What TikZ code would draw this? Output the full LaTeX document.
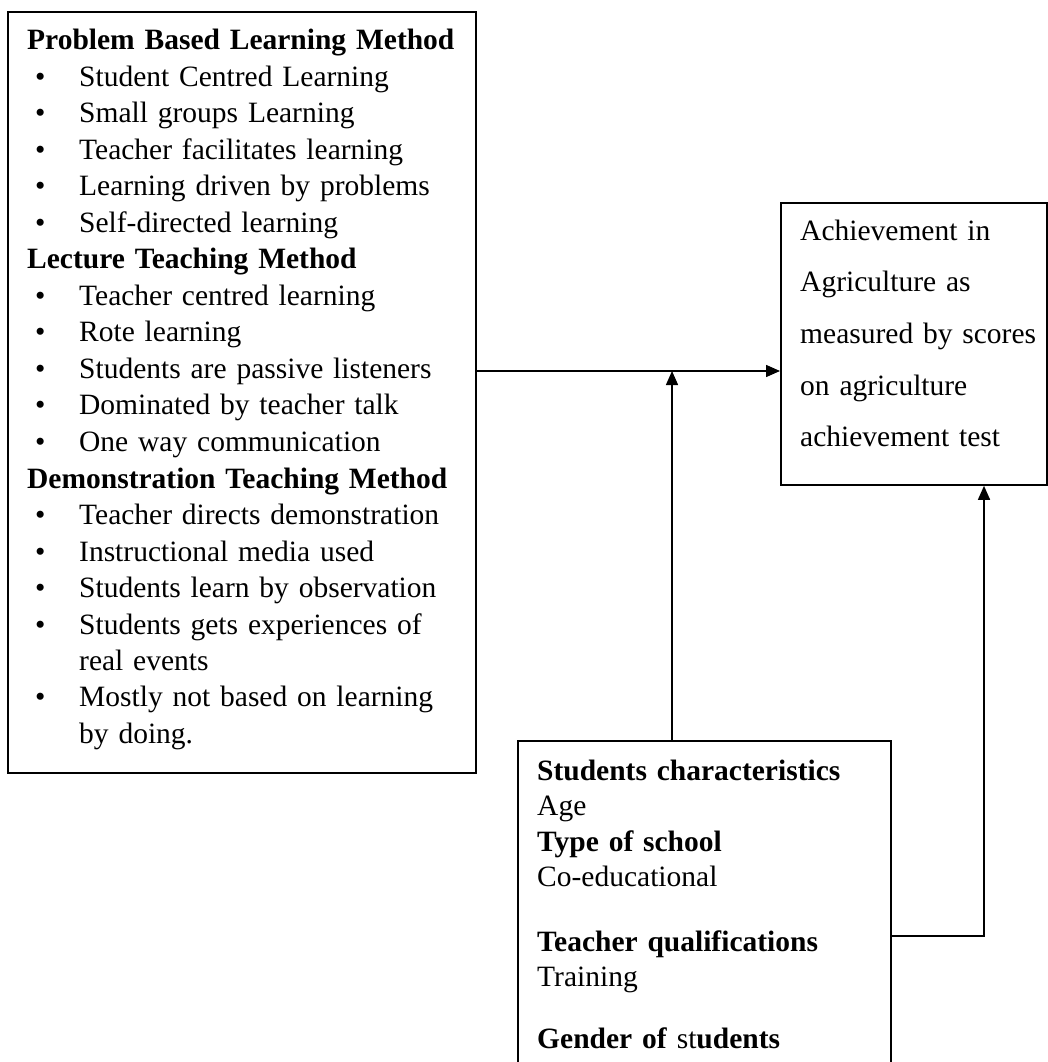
\documentclass[tikz,border=0pt]{standalone}
\usepackage{fontspec}
\setmainfont{Liberation Serif}
\usetikzlibrary{
	arrows.meta
}
\tikzset{
	x=1pt, y=-1pt,
	box/.style={
		draw, line width=1.8pt, anchor=north west, inner sep=0pt
	},
	txt/.style={
		anchor=base west, inner sep=0pt, align=left
	},
	link/.style={
		line width=1.5pt, -{Triangle[length=14pt,width=12pt]}
	}
}
\newcommand{\blt}{\hspace*{8pt}\makebox[44pt][l]{\textbullet}}

\begin{document}
\begin{tikzpicture}
	\useasboundingbox (0,0) rectangle (1047,1062);

	% frames
	\node[box, minimum width=468pt, minimum height=761pt] (methods) at (7,11) {};
	\node[box, minimum width=266pt, minimum height=282pt] (achieve) at (780,202) {};
	\node[box, minimum width=373pt, minimum height=360pt] (factors) at (517,740) {};

	% contents
	\node[txt, text width=440pt, font=\fontsize{29.5}{36.5}\selectfont] (methodslist) at (27,50) {%
		\textbf{Problem Based Learning Method}\\
		\blt Student Centred Learning\\
		\blt Small groups Learning\\
		\blt Teacher facilitates learning\\
		\blt Learning driven by problems\\
		\blt Self-directed learning\\
		\textbf{Lecture Teaching Method}\\
		\blt Teacher centred learning\\
		\blt Rote learning\\
		\blt Students are passive listeners\\
		\blt Dominated by teacher talk\\
		\blt One way communication\\
		\textbf{Demonstration Teaching Method}\\
		\blt Teacher directs demonstration\\
		\blt Instructional media used\\
		\blt Students learn by observation\\
		\blt Students gets experiences of\\
		\hspace*{52pt}real events\\
		\blt Mostly not based on learning\\
		\hspace*{52pt}by doing.};
	\node[txt, text width=240pt, font=\fontsize{29.5}{51.7}\selectfont] (achievetxt) at (800,240) {%
		Achievement in\\
		Agriculture as\\
		measured by scores\\
		on agriculture\\
		achievement test};
	\node[txt, text width=345pt, font=\fontsize{29.5}{35.5}\selectfont] (factorslist) at (537,780) {%
		\textbf{Students characteristics}\\
		Age\\
		\textbf{Type of school}\\
		Co-educational\\[29pt]
		\textbf{Teacher qualifications}\\
		Training\\[26pt]
		\textbf{Gender of }st\textbf{udents}};

	% arrows
	\coordinate (j) at (672,371);
	\coordinate (k) at (984,936);
	\draw[link] (methods.east |- j) -- (achieve.west |- j);
	\draw[link] (factors.north -| j) -- (j);
	\draw[link] (factors.east |- k) -| (achieve.south -| k);
\end{tikzpicture}
\end{document}
